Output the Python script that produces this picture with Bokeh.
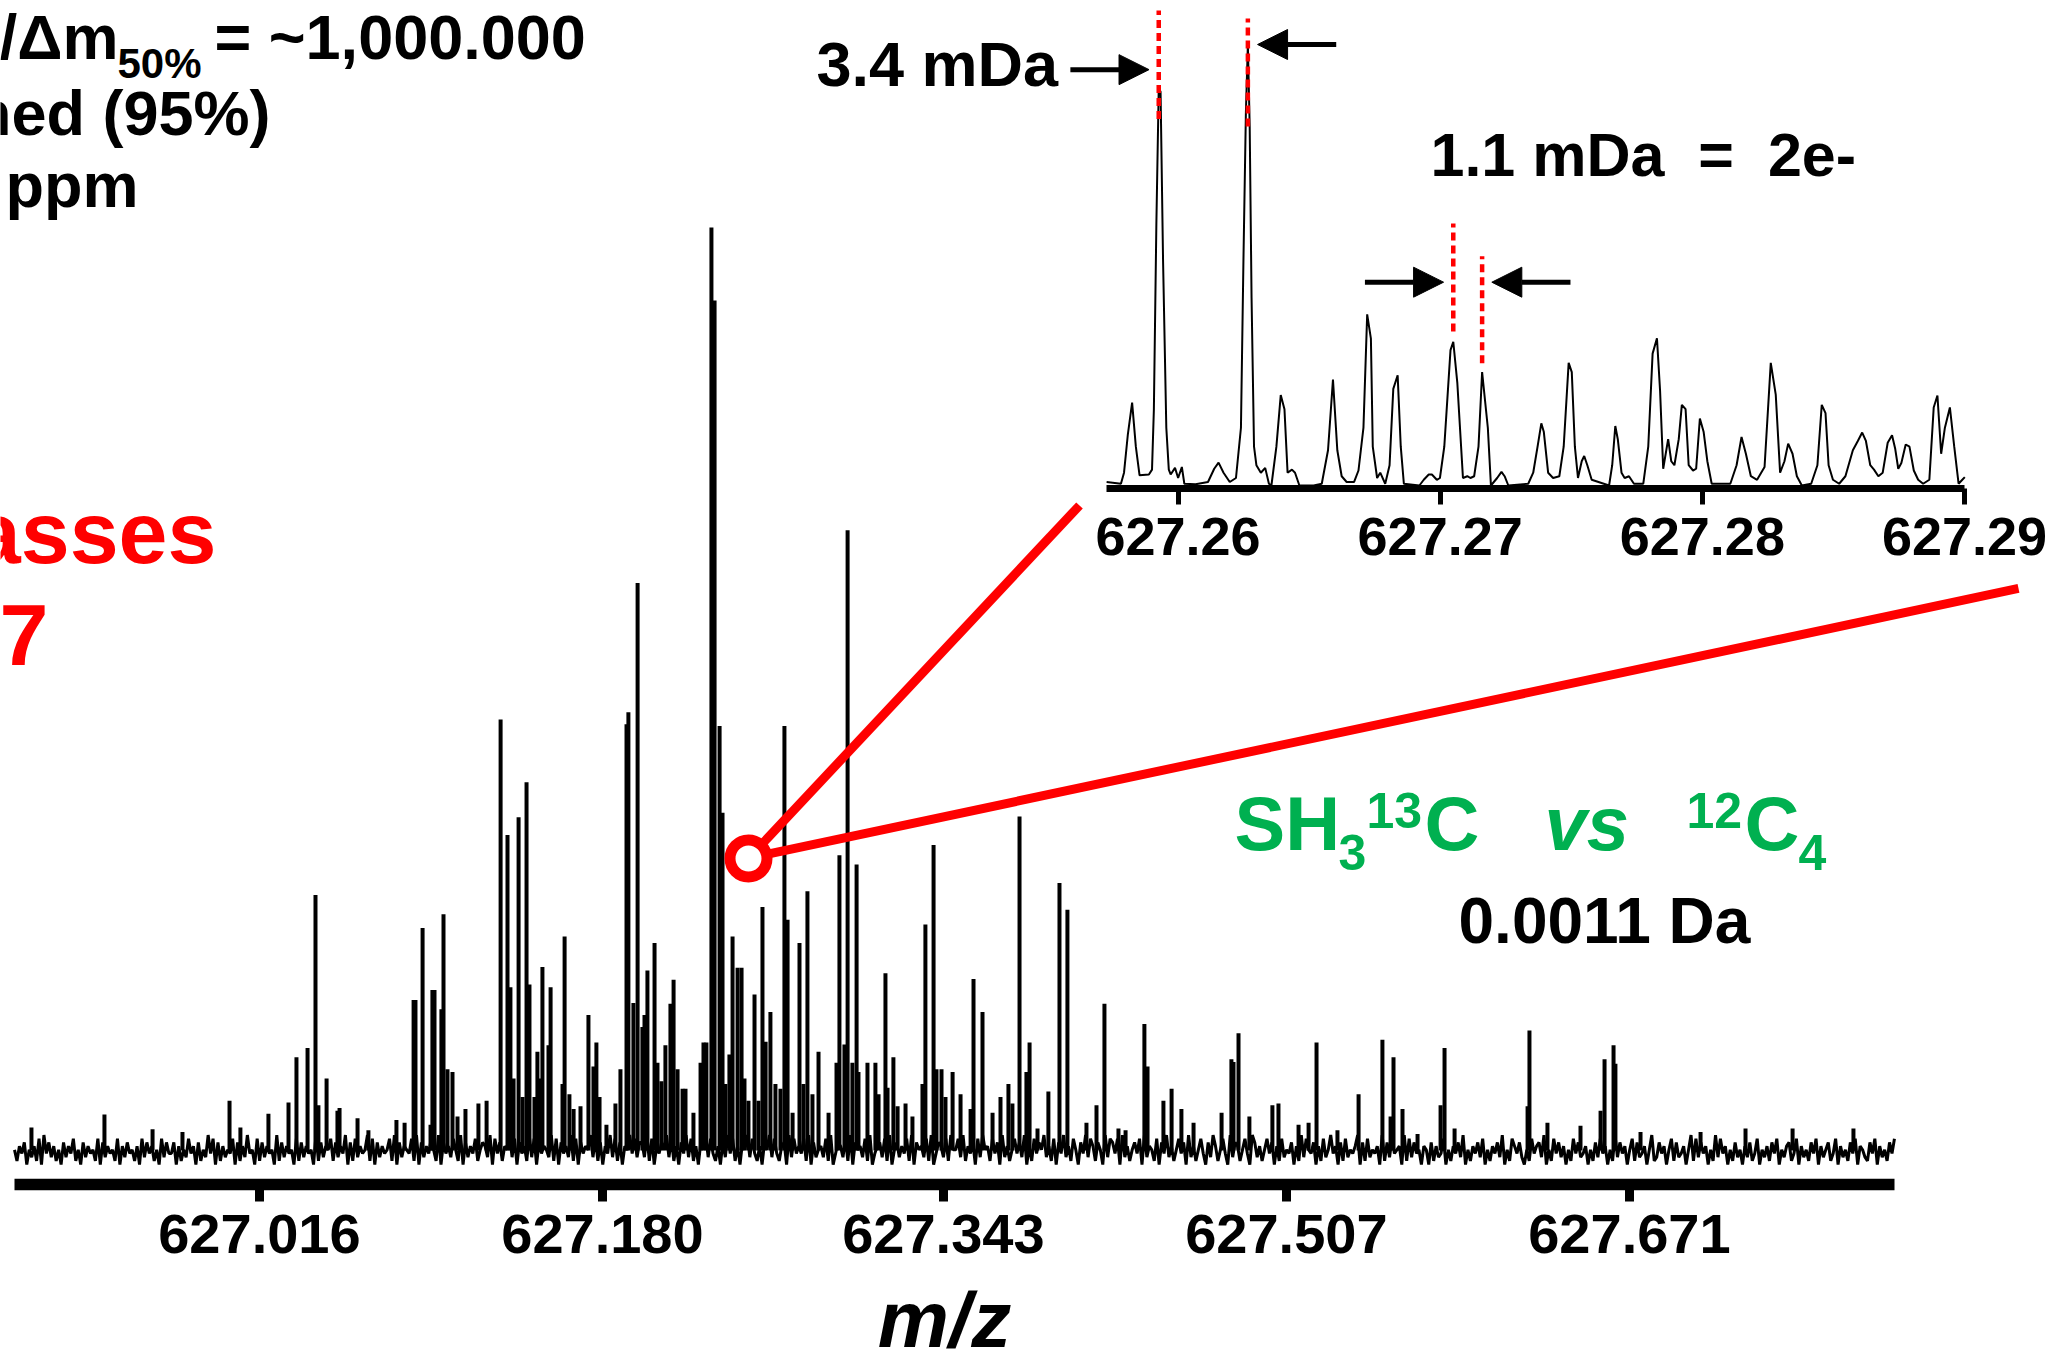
import numpy as np
from bokeh.plotting import figure
from bokeh.models import (Range1d, FixedTicker, NumeralTickFormatter, Label,
                          Arrow, NormalHead, GridBox)
from bokeh.embed import file_html
from bokeh.resources import INLINE

FONT = "Liberation Sans"
RED = "#FF0000"
GREEN = "#00B050"

# ---------------- broadband spectrum (relative abundance, %) ----------------
MZ_BASE = 626.9
peak_offset_mda = [
    7.0, 41.9, 64.9, 79.2, 101.7, 106.9, 120.3, 129.9, 133.7, 139.0,
    142.8, 144.2, 148.1, 153.3, 154.3, 162.9, 168.1, 181.5, 185.4, 189.7,
    190.6, 194.0, 197.8, 198.7, 199.7, 203.0, 204.0, 205.9, 208.3, 210.7,
    214.5, 220.7, 224.6, 231.3, 234.6, 236.0, 237.5, 239.9, 241.8, 243.7,
    245.1, 247.5, 248.9, 250.4, 251.3, 254.2, 255.2, 260.9, 261.9, 264.2,
    266.2, 269.5, 273.3, 275.7, 277.1, 278.6, 281.9, 286.2, 288.6, 291.5,
    292.4, 294.8, 296.8, 299.1, 300.1, 301.5, 304.9, 306.3, 308.2, 310.1,
    312.5, 314.0, 315.9, 318.3, 319.7, 323.5, 326.9, 328.3, 329.7, 332.1,
    333.6, 336.0, 337.4, 338.8, 340.7, 342.2, 344.6, 346.5, 347.9, 349.8,
    352.7, 354.6, 356.5, 358.0, 360.3, 362.7, 365.1, 367.0, 368.5, 370.9,
    374.2, 376.1, 378.0, 380.4, 383.3, 388.1, 391.9, 393.3, 395.7, 397.2,
    399.5, 401.5, 402.4, 406.7, 410.5, 412.0, 415.3, 416.3, 419.1, 421.1,
    424.9, 428.2, 433.0, 434.4, 438.3, 439.7, 442.1, 444.0, 447.4, 451.2,
    456.0, 457.4, 461.7, 466.5, 470.3, 474.1, 476.0, 479.4, 482.7, 484.2,
    488.0, 493.2, 498.5, 502.3, 511.4, 516.2, 520.0, 526.7, 530.1, 539.1,
    540.6, 548.2, 552.1, 556.8, 562.6, 576.0, 580.7, 581.7, 584.1, 589.3,
    600.3, 603.2, 612.8, 617.6, 621.4, 631.4, 641.5, 652.9, 656.8, 658.2,
    662.5, 669.7, 680.7, 682.6, 687.4, 722.3, 723.2, 731.8, 747.6, 757.2,
    759.1, 763.4, 764.3, 776.3, 805.0, 826.5, 849.0, 878.1,
]
peak_abundance = [
    2.5, 3.9, 2.3, 2.0, 5.4, 2.5, 4.0, 5.2, 10.1, 11.1,
    27.7, 4.9, 7.8, 4.3, 4.6, 3.5, 2.2, 3.3, 3.0, 16.3,
    16.3, 24.1, 2.8, 17.4, 17.4, 15.3, 25.6, 8.8, 8.5, 3.7,
    4.5, 5.1, 5.4, 46.7, 34.2, 17.7, 7.8, 36.1, 5.8, 39.9,
    18.0, 5.8, 10.7, 7.8, 19.9, 11.4, 17.7, 7.2, 23.2, 6.1,
    4.5, 4.8, 14.7, 9.1, 11.7, 5.8, 2.8, 5.1, 8.8, 46.2,
    47.5, 16.0, 61.5, 13.4, 14.7, 19.5, 22.5, 9.5, 7.5, 11.4,
    15.9, 18.5, 8.8, 6.7, 6.7, 4.1, 9.5, 11.7, 11.7, 100.0,
    92.1, 46.0, 36.6, 7.2, 10.4, 23.2, 19.8, 19.8, 7.8, 5.4,
    16.9, 5.4, 26.4, 11.8, 15.0, 7.2, 6.7, 46.0, 25.0, 4.1,
    22.5, 7.2, 28.1, 6.1, 10.7, 4.1, 9.5, 32.0, 11.5, 67.2,
    9.5, 31.0, 8.5, 9.5, 9.5, 6.1, 19.2, 6.8, 10.1, 4.8,
    5.1, 3.7, 7.2, 24.5, 33.1, 8.8, 8.8, 5.8, 8.5, 6.1,
    4.5, 18.6, 15.0, 4.1, 5.8, 7.2, 5.1, 36.2, 8.5, 11.7,
    2.4, 6.4, 29.0, 26.1, 3.0, 4.9, 15.9, 2.4, 2.2, 13.7,
    9.1, 5.4, 6.7, 4.5, 3.0, 4.1, 9.9, 9.6, 12.7, 3.7,
    4.9, 5.1, 2.8, 3.0, 11.7, 2.2, 6.1, 12.0, 3.7, 10.1,
    4.5, 1.8, 4.9, 11.1, 2.4, 4.8, 13.0, 3.0, 2.7, 4.3,
    9.9, 11.4, 9.4, 2.0, 2.0, 2.4, 2.4, 2.4,
]
# baseline noise, one digit per sample (0 = lowest, 9 = highest)
noise_rows = [
    "5264715362819473625173648251736452817364528163745261837462518374",
    "4716253846172539481726354817263945182736451927364518273645192736",
    "5827364917283645928173645829173654829173648529174638529173648257",
    "6391847265938174629381746539281746392817465938271649382716594837",
    "7392816475938261749382617593842617394826175938426175938426719384",
    "6482917356382914763829175638291467382915736482917563829147638295",
    "5839264718395628471936258473916284759362817493628517493862751938",
    "7481936257481936528174936258471936258417396258419376258419736258",
    "4716283547162938547162835946172835469172835461927384561928374516",
    "5172634815264739152647381526473915286473152846739152847361528473",
    "4615273846152937461582734615923746158273461592837461529384615273",
    "5163724815362748153672481635274816357248163527481653274816352748",
]
SPECTRUM_START, SPECTRUM_END = 626.8989, 627.7977
main_ticks = [627.016, 627.180, 627.343, 627.507, 627.671]

# ---------------- zoomed segment (relative abundance, %) ----------------
ZOOM_BASE = 627.25
zoom_offset_uda = [
    7277, 7823, 7941, 8084, 8250, 8392, 8534, 8890, 9009, 9080,
    9175, 9265, 9335, 9430, 9554, 9649, 9720, 9886, 10005, 10147,
    10242, 10669, 11144, 11381, 11547, 11737, 11974, 12211, 12401, 12496,
    12590, 12665, 12735, 12806, 12900, 12990, 13160, 13326, 13468, 13563,
    13753, 13919, 14061, 14180, 14346, 14464, 14630, 15176, 15484, 15722,
    15911, 16077, 16243, 16433, 16718, 16884, 17074, 17216, 17358, 17429,
    17595, 17714, 17904, 18070, 18212, 18378, 18497, 18615, 19208, 19374,
    19564, 19683, 19873, 19991, 20157, 20394, 20500, 20655, 20869, 21035,
    21153, 21296, 21462, 21600, 21818, 21936, 22173, 22339, 22458, 22600,
    23359, 23549, 23715, 23858, 23952, 24118, 24308, 24545, 24711, 24901,
    25020, 25138, 25257, 25399, 25494, 25613, 25779, 26443, 26562, 26680,
    26775, 26917, 27036, 27202, 27392, 27748, 27937, 28103, 28269, 28388,
    28507, 28696, 28815, 28934, 29100, 29218, 29361, 29479, 29645, 29764,
    29906, 30048, 30191, 30357, 31068, 31306, 31495, 31661, 31851, 32088,
    32373, 32610, 32800, 32966, 33132, 33274, 33440, 33606, 33796, 34152,
    34389, 34555, 34698, 34816, 34982, 35219, 35457, 35741, 35931, 36097,
    36239, 36405, 36548, 36714, 36880, 37070, 37236, 37354, 37473, 37591,
    37757, 37900, 38066, 38232, 38422, 38659, 38825, 38967, 39109, 39252,
    39442, 39608, 39774, 39916, 40011,
]
zoom_abundance = [
    0.8, 0.4, 2.9, 11.4, 18.8, 8.8, 2.3, 2.5, 3.6, 17.3,
    59.4, 90.1, 89.3, 51.0, 13.1, 3.6, 2.5, 4.0, 1.7, 4.2,
    0.4, 0.3, 0.8, 3.8, 5.2, 2.9, 0.8, 1.7, 13.1, 51.0,
    84.7, 100.0, 81.3, 42.5, 8.8, 4.6, 2.9, 4.0, 0.4, 0.0,
    8.8, 20.5, 17.3, 2.9, 3.6, 2.9, 0.0, 0.0, 0.4, 8.0,
    24.0, 8.0, 2.1, 0.8, 0.8, 3.4, 13.1, 38.8, 33.3, 8.8,
    1.7, 2.9, 0.4, 4.6, 21.9, 25.0, 8.8, 0.4, 0.0, 1.3,
    2.5, 2.5, 1.3, 1.7, 8.8, 30.7, 32.6, 23.2, 1.7, 2.1,
    1.7, 2.1, 8.8, 25.7, 13.1, 0.0, 1.7, 3.1, 2.1, 0.0,
    0.4, 2.9, 8.8, 14.1, 12.2, 2.9, 1.7, 2.1, 8.8, 27.8,
    25.7, 8.8, 1.7, 5.5, 6.7, 4.6, 1.3, 0.0, 4.6, 13.5,
    10.5, 2.9, 1.7, 2.1, 0.4, 0.4, 8.8, 29.9, 33.4, 21.5,
    3.8, 10.5, 5.5, 4.6, 10.5, 18.3, 17.3, 4.6, 3.4, 3.8,
    15.2, 12.2, 5.5, 0.4, 0.4, 4.6, 11.0, 7.2, 2.1, 1.3,
    4.2, 27.8, 20.6, 2.9, 5.5, 9.5, 7.2, 2.1, 0.0, 0.4,
    4.6, 18.3, 16.4, 4.6, 1.3, 0.4, 2.1, 8.0, 10.1, 12.0,
    10.1, 4.6, 3.6, 2.1, 2.9, 9.7, 11.4, 8.4, 3.8, 5.1,
    9.3, 8.8, 3.4, 1.3, 0.4, 1.3, 17.7, 20.4, 7.2, 13.1,
    17.7, 8.8, 0.4, 1.3, 1.9,
]
zoom_ticks = [627.26, 627.27, 627.28, 627.29]
ZOOM_START, ZOOM_END = 627.25727, 627.29
# peak pairs compared in the zoom (m/z)
pair_wide = (627.259265, 627.262665)
pair_narrow = (627.2705, 627.2716)
marker_low = [83.1, 81.4, 34.9, 27.7]
marker_high = [107.7, 105.9, 59.4, 52.0]

# ---------------- canvas geometry ----------------
W, H = 2055, 1354
MAIN_PX_PER_DA, MAIN_X0 = 2091.6, 626.8922
MAIN_PX_PER_PCT, MAIN_TOP = 9.23, 124.6
MAIN_FRAME_H, MAIN_BORDER_B = 1184, 106
MAIN_H = MAIN_FRAME_H + MAIN_BORDER_B
STRIP_H = H - MAIN_H
ZOOM_PX_PER_DA, ZOOM_ANCHOR_MZ, ZOOM_ANCHOR_PX = 26217.0, 627.26, 1177.5
ZOOM_PX_PER_PCT, ZOOM_BASE_PX = 4.41, 485.0
ZOOM_FRAME_H = 488
BASELINE_SHIFT = 0.39   # em offset of the rendered text baseline


def mx(px):
    return MAIN_X0 + px / MAIN_PX_PER_DA


def my(py):
    return MAIN_TOP - py / MAIN_PX_PER_PCT


def ix(px):
    return ZOOM_ANCHOR_MZ + (px - ZOOM_ANCHOR_PX) / ZOOM_PX_PER_DA


def iy(py):
    return (ZOOM_BASE_PX - py) / ZOOM_PX_PER_PCT


def label(fig, x, ypx, ymap, text, size, color="black", style="bold", align="left"):
    fig.add_layout(Label(x=x, y=ymap(ypx - BASELINE_SHIFT * size), text=text,
                         text_font=FONT, text_font_size=f"{size}px",
                         text_font_style=style, text_color=color,
                         text_align=align, text_baseline="alphabetic"))


def style_axis(ax, ticks, fmt, bounds, line_w, tick_w, tick_out, size, standoff):
    ax.ticker = FixedTicker(ticks=ticks, minor_ticks=[])
    ax.formatter = NumeralTickFormatter(format=fmt)
    ax.bounds = bounds
    ax.axis_line_width = line_w
    ax.axis_line_color = "black"
    ax.major_tick_line_width = tick_w
    ax.major_tick_line_color = "black"
    ax.major_tick_out = tick_out
    ax.major_tick_in = 0
    ax.minor_tick_out = 0
    ax.minor_tick_in = 0
    ax.major_label_text_font = FONT
    ax.major_label_text_font_size = f"{size}px"
    ax.major_label_text_font_style = "bold"
    ax.major_label_text_color = "black"
    ax.major_label_standoff = standoff


def bare(fig, transparent=False):
    fig.title.visible = False
    fig.grid.visible = False
    fig.outline_line_color = None
    if transparent:
        fig.background_fill_alpha = 0
        fig.border_fill_alpha = 0
    else:
        fig.background_fill_color = "white"
        fig.border_fill_color = "white"


# ---------------- main spectrum ----------------
main_x = Range1d(mx(0), mx(W))
main = figure(width=W, height=MAIN_H, output_backend="svg", toolbar_location=None,
              x_range=main_x, y_range=Range1d(my(MAIN_FRAME_H), MAIN_TOP),
              y_axis_location=None,
              min_border_left=0, min_border_right=0, min_border_top=0,
              min_border_bottom=MAIN_BORDER_B)
bare(main)
style_axis(main.xaxis[0], main_ticks, "0.000", (SPECTRUM_START, SPECTRUM_END),
           11.5, 9, 17, 56, 13)

noise_level = [(int(c) - 4.8) * 0.4 for c in "".join(noise_rows)]
noise_mz = np.linspace(SPECTRUM_START, SPECTRUM_END, len(noise_level))
main.line(noise_mz, noise_level, line_color="black", line_width=3)

peak_mz = [MZ_BASE + o / 1000.0 for o in peak_offset_mda]
main.segment(x0=peak_mz, y0=[0.0] * len(peak_mz), x1=peak_mz, y1=peak_abundance,
             line_color="black", line_width=4)

# callout from the spectrum to the zoomed segment
callout_x0 = [627.25589, 627.25843]
callout_y0 = [33.11, 32.08]
callout_x1 = [627.40807, 627.85701]
callout_y1 = [69.89, 60.90]
main.segment(x0=callout_x0, y0=callout_y0, x1=callout_x1, y1=callout_y1,
             line_color=RED, line_width=9)
main.scatter(x=[627.24982], y=[31.64], marker="circle", size=37,
             fill_color=None, line_color=RED, line_width=11)

# headline text
label(main, mx(118), 61, my, "m/Δm", 63, align="right")
label(main, mx(117), 79, my, "50%", 42)
label(main, mx(214), 61, my, "= ~1,000.000", 63)
label(main, mx(270), 137, my, "Assigned (95%)", 63, align="right")
label(main, mx(138), 209, my, "< 0.2 ppm", 63, align="right")
label(main, mx(216), 566, my, "Resolved masses", 88, color=RED, align="right")
label(main, mx(48), 668, my, "17", 88, color=RED, align="right")

# SH3 13C vs 12C4
label(main, mx(1234), 853, my, "SH", 76, color=GREEN)
label(main, mx(1338), 871, my, "3", 50, color=GREEN)
label(main, mx(1366), 829, my, "13", 50, color=GREEN)
label(main, mx(1424), 853, my, "C", 76, color=GREEN)
label(main, mx(1544), 853, my, "vs", 76, color=GREEN, style="bold italic")
label(main, mx(1686), 829, my, "12", 50, color=GREEN)
label(main, mx(1744), 853, my, "C", 76, color=GREEN)
label(main, mx(1798), 871, my, "4", 50, color=GREEN)
label(main, mx(1458), 945, my, "0.0011 Da", 64)

# ---------------- axis title strip ----------------
strip = figure(width=W, height=STRIP_H, output_backend="svg", toolbar_location=None,
               x_range=main_x, y_range=Range1d(STRIP_H, 0),
               x_axis_location=None, y_axis_location=None,
               min_border_left=0, min_border_right=0, min_border_top=0,
               min_border_bottom=0)
bare(strip)
label(strip, mx(944), 1350 - MAIN_H, lambda v: v, "m/z", 80,
      style="bold italic", align="center")

# ---------------- zoomed segment ----------------
zoom_h = ZOOM_FRAME_H + MAIN_BORDER_B
zoom = figure(width=W, height=zoom_h, output_backend="svg", toolbar_location=None,
              x_range=Range1d(ix(0), ix(W)),
              y_range=Range1d(iy(ZOOM_FRAME_H), iy(0)),
              y_axis_location=None,
              min_border_left=0, min_border_right=0, min_border_top=0,
              min_border_bottom=MAIN_BORDER_B)
bare(zoom, transparent=True)
style_axis(zoom.xaxis[0], zoom_ticks, "0.00", (ZOOM_START, ZOOM_END),
           7, 5, 16, 54, 13)

zoom_mz = [ZOOM_BASE + o * 1e-6 for o in zoom_offset_uda]
zoom.line(zoom_mz, zoom_abundance, line_color="black", line_width=2)

marks = [pair_wide[0], pair_wide[1], pair_narrow[0], pair_narrow[1]]
zoom.segment(x0=marks, y0=marker_low, x1=marks, y1=marker_high,
             line_color=RED, line_width=4.5, line_dash="8 5")

GAP, LEN = 0.00037, 0.003
arrows = [
    (pair_wide[0] - GAP - LEN, pair_wide[0] - GAP, 94.3),
    (pair_wide[1] + GAP + LEN, pair_wide[1] + GAP, 100.0),
    (pair_narrow[0] - GAP - LEN, pair_narrow[0] - GAP, 46.1),
    (pair_narrow[1] + GAP + LEN, pair_narrow[1] + GAP, 46.1),
]
for xs, xe, yy in arrows:
    zoom.add_layout(Arrow(x_start=xs, y_start=yy, x_end=xe, y_end=yy,
                          line_color="black", line_width=5,
                          end=NormalHead(size=30, fill_color="black",
                                         line_color="black", line_width=1)))

wide_mda = (pair_wide[1] - pair_wide[0]) * 1e3
narrow_mda = (pair_narrow[1] - pair_narrow[0]) * 1e3
label(zoom, ix(816), 88, iy, f"{wide_mda:.1f} mDa", 63)
label(zoom, ix(1430), 178, iy,
      f"{narrow_mda:.1f} mDa\u00a0\u00a0=\u00a0\u00a02e-", 61)

layout = GridBox(children=[(main, 0, 0), (zoom, 0, 0), (strip, 1, 0)])

open("out.html", "w").write(file_html(layout, INLINE))
